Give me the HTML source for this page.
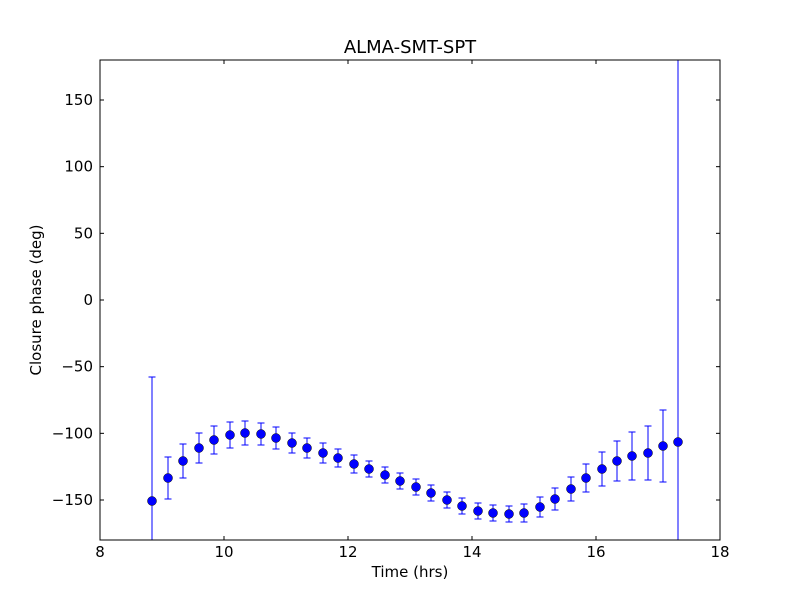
<!DOCTYPE html>
<html><head><meta charset="utf-8"><style>
html,body{margin:0;padding:0;background:#fff;width:800px;height:600px;overflow:hidden}
svg{display:block;font-family:"DejaVu Sans","Liberation Sans",sans-serif}
</style></head><body>
<svg id="s" width="800" height="600" viewBox="0 0 800 600">
<rect width="800" height="600" fill="#fff"/>
<defs><clipPath id="c"><rect x="100" y="60" width="620" height="480"/></clipPath></defs>
<g id="d" clip-path="url(#c)"></g>
<rect x="100" y="60" width="620" height="480" fill="none" stroke="#000" stroke-width="1"/>
<g id="t" stroke="#000" stroke-width="1"></g>
<g font-size="15" fill="#000">
<g id="xl" text-anchor="middle"></g>
<g id="yl" text-anchor="end"></g>
<text x="410" y="577" text-anchor="middle">Time (hrs)</text>
<text transform="translate(41,300) rotate(-90)" text-anchor="middle">Closure phase (deg)</text>
<text x="410" y="53" text-anchor="middle" font-size="18">ALMA-SMT-SPT</text>
</g>
</svg>
<script>
const ns="http://www.w3.org/2000/svg";
function el(p,n,a,txt){const e=document.createElementNS(ns,n);for(const k in a)e.setAttribute(k,a[k]);if(txt!==undefined)e.textContent=txt;p.appendChild(e);return e;}
const d=document.getElementById('d'),t=document.getElementById('t');
const xs=[152,168,183,199,214,230,245,261,276,292,307,323,338,354,369,385,400,416,431,447,462,478,493,509,524,540,555,571,586,602,617,632,648,663,678];
const ys=[501,478,461,448,440,435,433,434,438,443,448,453,458,464,469,475,481,487,493,500,506,511,513,514,513,507,499,489,478,469,461,456,453,446,442];
const es=[124,21,17,15,14,13,12,11,11,10,10,10,9,9,8,8,8,8,8,8,8,8,8,8,9,10,11,12,14,17,20,24,27,36,400];
for(let i=0;i<xs.length;i++){
 const x=xs[i],y=ys[i],e=es[i];
 el(d,'line',{x1:x,x2:x,y1:y-e,y2:y+e,stroke:'#0000ff','stroke-width':1});
 el(d,'line',{x1:x-3.5,x2:x+3.5,y1:y-e,y2:y-e,stroke:'#0000ff','stroke-width':1});
 el(d,'line',{x1:x-3.5,x2:x+3.5,y1:y+e,y2:y+e,stroke:'#0000ff','stroke-width':1});
}
for(let i=0;i<xs.length;i++) el(d,'circle',{cx:xs[i],cy:ys[i],r:4.5,fill:'#0000ff',stroke:'#000','stroke-width':0.5});
const xl=document.getElementById('xl'),yl=document.getElementById('yl');
for(let v=8;v<=18;v+=2){const x=100+(v-8)*62;
 el(t,'line',{x1:x,x2:x,y1:540,y2:536});el(t,'line',{x1:x,x2:x,y1:60,y2:64});
 el(xl,'text',{x:x,y:557},String(v));}
for(let v=-150;v<=150;v+=50){const y=300-v*4/3;
 el(t,'line',{x1:100,x2:104,y1:y,y2:y});el(t,'line',{x1:720,x2:716,y1:y,y2:y});
 el(yl,'text',{x:93,y:y+5},(v<0?'\u2212':'')+Math.abs(v));}
</script>
</body></html>
